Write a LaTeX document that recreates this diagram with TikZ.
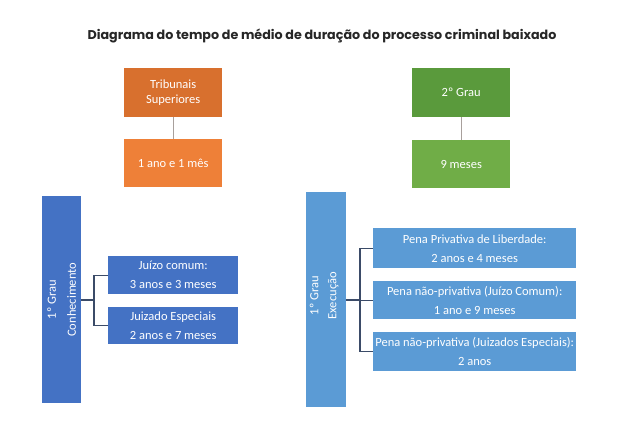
\documentclass[tikz,border=0pt]{standalone}
\usepackage{fontspec}
\setmainfont{Carlito}
\newfontfamily\titlefont{Poppins}
\definecolor{orgdark}{HTML}{D8702E}
\definecolor{orglight}{HTML}{EE8038}
\definecolor{grndark}{HTML}{5A9A3C}
\definecolor{grnlight}{HTML}{70AD47}
\definecolor{bluedark}{HTML}{4472C4}
\definecolor{bluelight}{HTML}{5B9BD5}
\definecolor{conngray}{HTML}{A8A09C}
\definecolor{conndark}{HTML}{3B4B68}
\tikzset{
  box/.style={rectangle, inner sep=0pt, text=white, align=center, anchor=north west},
  lbl/.style={font=\fontsize{12.5}{15}\selectfont},
  childlbl/.style={font=\fontsize{12.5}{19}\selectfont},
  tree/.style={draw=conndark, line width=1.2pt},
  stem/.style={draw=conngray, line width=1.2pt}
}
\begin{document}
\begin{tikzpicture}[x=1pt,y=-1pt]
\useasboundingbox[fill=white] (0,0) rectangle (620,440);
\node[font=\titlefont\bfseries\fontsize{12.7}{15}\selectfont, text=black!85] (title) at (322,36) {Diagrama do tempo de médio de duração do processo criminal baixado};

% Tribunais superiores
\node[box, fill=orgdark, minimum width=98pt, minimum height=49pt, lbl] (ts) at (124,68) {Tribunais\\Superiores};
\node[box, fill=orglight, minimum width=98pt, minimum height=48pt, lbl] (tsv) at (124,139) {1 ano e 1 mês};
\draw[stem] (ts.south) -- (tsv.north);

% 2o grau
\node[box, fill=grndark, minimum width=98pt, minimum height=49pt, lbl] (sg) at (412,68) {2º Grau};
\node[box, fill=grnlight, minimum width=98pt, minimum height=48pt, lbl] (sgv) at (412,140) {9 meses};
\draw[stem] (sg.south) -- (sgv.north);

% 1o grau conhecimento
\node[box, fill=bluedark, minimum width=39pt, minimum height=207pt] (pc) at (42,196) {};
\node[rotate=90, text=white, align=center, font=\fontsize{12.5}{20}\selectfont] (pct) at (pc.center) {1º Grau\\Conhecimento};
\node[box, fill=bluedark, minimum width=130pt, minimum height=38pt, childlbl] (jc) at (108,256) {Juízo comum:\\3 anos e 3 meses};
\node[box, fill=bluedark, minimum width=130pt, minimum height=37pt, childlbl] (je) at (108,307) {Juizado Especiais\\2 anos e 7 meses};
\coordinate (lj) at (94,300);
\draw[tree] (pc.east |- lj) -- (lj);
\draw[tree] (jc.west) -| (lj) |- (je.west);

% 1o grau execucao
\node[box, fill=bluelight, minimum width=40pt, minimum height=215pt] (pe) at (306,192) {};
\node[rotate=90, text=white, align=center, font=\fontsize{12.5}{18}\selectfont] (pet) at ([xshift=-2pt,yshift=4pt]pe.center) {1º Grau\\Execução};
\node[box, fill=bluelight, minimum width=203pt, minimum height=40pt, childlbl] (pp) at (373,228) {Pena Privativa de Liberdade:\\2 anos e 4 meses};
\node[box, fill=bluelight, minimum width=203pt, minimum height=38pt, childlbl] (pn) at (373,281) {Pena não-privativa (Juízo Comum):\\1 ano e 9 meses};
\node[box, fill=bluelight, minimum width=203pt, minimum height=39pt, childlbl] (pj) at (373,332) {Pena não-privativa (Juizados Especiais):\\2 anos};
\coordinate (rj) at (360,300);
\draw[tree] (pe.east |- rj) -- (rj);
\draw[tree] (pp.west) -| (rj) |- (pj.west);
\draw[tree] (rj |- pn.west) -- (pn.west);
\end{tikzpicture}
\end{document}
